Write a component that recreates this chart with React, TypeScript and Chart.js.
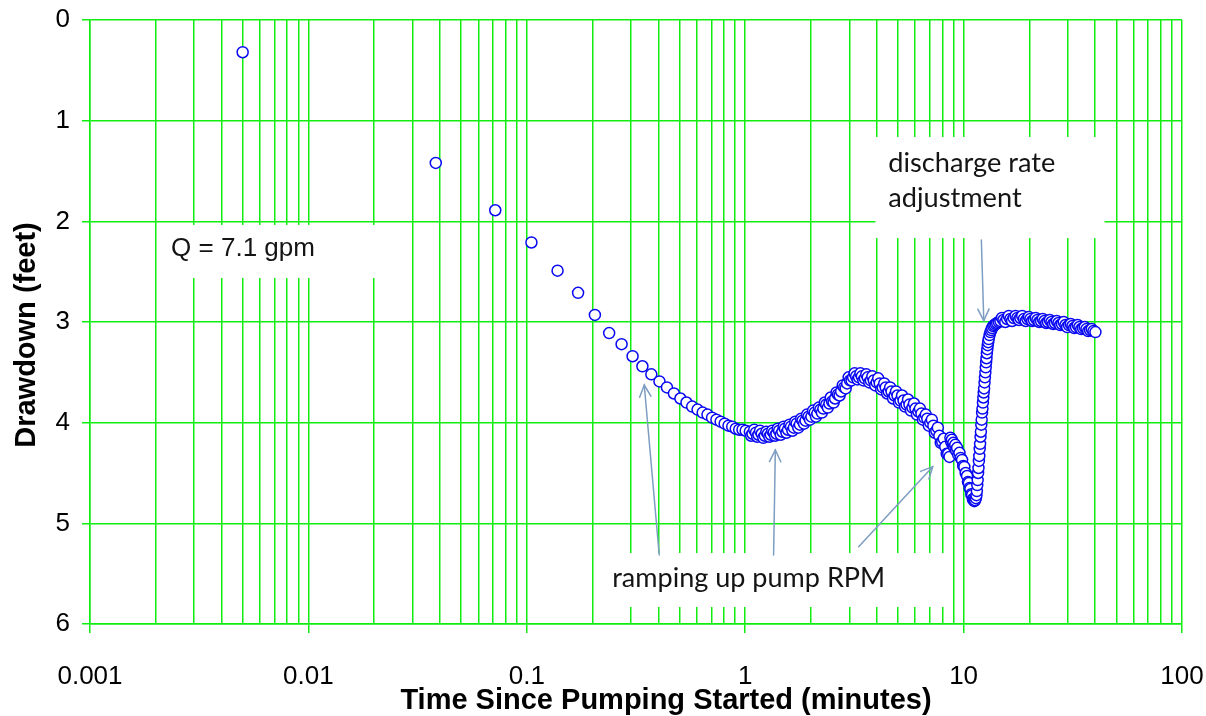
import { useEffect, useRef } from "react";
import { Chart, registerables } from "chart.js";

Chart.register(...registerables);

// ---- data ----
const timeMinutes = [
  // early, individually visible samples
  0.005, 0.0383, 0.0717, 0.105, 0.1383, 0.1717, 0.205, 0.2383, 0.2717, 0.305,
  0.3383, 0.3717, 0.405, 0.4383, 0.4717, 0.505, 0.5383, 0.5717, 0.605, 0.6383,
  0.6717, 0.705, 0.7383, 0.7717, 0.805, 0.8383, 0.8717, 0.905, 0.9383, 0.9717,
  1.005,
  // ramp-up band
  1.05, 1.065, 1.08, 1.1, 1.12, 1.135, 1.15, 1.17, 1.19, 1.21,
  1.23, 1.25, 1.27, 1.29, 1.31, 1.33, 1.35, 1.37, 1.39, 1.41,
  1.43, 1.455, 1.48, 1.5, 1.52, 1.545, 1.57, 1.595, 1.62, 1.645,
  1.67, 1.695, 1.72, 1.75, 1.78, 1.805, 1.83, 1.86, 1.89, 1.92,
  1.95, 1.98, 2.01, 2.045, 2.08, 2.11, 2.14, 2.175, 2.21, 2.245,
  2.28, 2.315, 2.35, 2.39, 2.43, 2.465, 2.5, 2.54, 2.58, 2.62,
  2.66, 2.705, 2.75, 2.795, 2.84, 2.885, 2.93, 2.975, 3.02, 3.07,
  3.12, 3.17, 3.22, 3.27, 3.32, 3.37, 3.42, 3.475, 3.53, 3.585,
  3.64, 3.7, 3.76, 3.82, 3.88, 3.94, 4.0, 4.065, 4.13, 4.195,
  4.26, 4.33, 4.4, 4.47, 4.54, 4.61, 4.68, 4.755, 4.83, 4.905,
  4.98, 5.06, 5.14, 5.225, 5.31, 5.395, 5.48, 5.565, 5.65, 5.74,
  5.83, 5.925, 6.02, 6.115, 6.21, 6.31, 6.41, 6.51, 6.61, 6.715,
  6.82, 6.93, 7.04, 7.155, 7.27, 7.385, 7.5, 7.62, 7.74, 7.86,
  7.98, 8.11, 8.24, 8.37, 8.5, 8.62,
  // small jump and dip
  8.7, 8.77, 8.84, 8.91, 8.98, 9.07, 9.16, 9.25, 9.34, 9.45,
  9.57, 9.7, 9.84, 9.96, 10.08, 10.22, 10.37, 10.47, 10.57, 10.65,
  10.74, 10.84, 10.94, 11.03, 11.12, 11.2, 11.27, 11.38,
  // discharge rate adjustment
  11.45, 11.5, 11.55, 11.6, 11.65, 11.7, 11.75, 11.8, 11.85, 11.9,
  11.95, 12.0, 12.05, 12.1, 12.15, 12.2, 12.26, 12.31, 12.36, 12.41,
  12.47, 12.52, 12.58, 12.63, 12.68, 12.73, 12.78, 12.84, 12.9, 12.96,
  13.03, 13.15, 13.27, 13.39, 13.51, 13.67, 13.84, 14.04, 14.24, 14.49,
  // plateau
  14.74, 14.98, 15.22, 15.52, 15.82, 16.1, 16.38, 16.67, 16.96, 17.3,
  17.64, 17.92, 18.2, 18.55, 18.89, 19.25, 19.6, 19.9, 20.23, 20.6,
  20.99, 21.38, 21.78, 22.2, 22.61, 23.03, 23.45, 23.9, 24.33, 24.8,
  25.25, 25.72, 26.2, 26.7, 27.19, 27.7, 28.2, 28.73, 29.27, 29.8,
  30.37, 30.94, 31.51, 32.1, 32.69, 33.3, 33.92, 34.56, 35.2, 35.86,
  36.52, 37.2, 37.9, 38.6, 39.32, 40.15,
];

const drawdownFeet = [
  0.32, 1.42, 1.89, 2.21, 2.49, 2.71, 2.93, 3.11, 3.22, 3.34,
  3.44, 3.52, 3.59, 3.65, 3.71, 3.76, 3.8, 3.84, 3.87, 3.9,
  3.92, 3.95, 3.97, 3.99, 4.01, 4.03, 4.04, 4.06, 4.07, 4.07,
  4.08,
  4.09, 4.13, 4.11, 4.07, 4.1, 4.14, 4.12, 4.08, 4.11, 4.15,
  4.13, 4.09, 4.11, 4.14, 4.12, 4.08, 4.1, 4.13, 4.11, 4.06,
  4.08, 4.12, 4.09, 4.04, 4.06, 4.1, 4.07, 4.02, 4.04, 4.08,
  4.05, 3.99, 4.01, 4.05, 4.02, 3.96, 3.98, 4.01, 3.98, 3.92,
  3.94, 3.97, 3.94, 3.88, 3.9, 3.94, 3.91, 3.85, 3.87, 3.9,
  3.86, 3.8, 3.82, 3.85, 3.81, 3.75, 3.79, 3.8, 3.76, 3.7,
  3.72, 3.73, 3.69, 3.63, 3.65, 3.66, 3.61, 3.55, 3.58, 3.58,
  3.55, 3.51, 3.54, 3.57, 3.55, 3.51, 3.54, 3.58, 3.56, 3.52,
  3.55, 3.6, 3.58, 3.54, 3.58, 3.63, 3.6, 3.56, 3.61, 3.67,
  3.65, 3.61, 3.65, 3.71, 3.69, 3.65, 3.69, 3.76, 3.73, 3.69,
  3.73, 3.8, 3.78, 3.73, 3.78, 3.84, 3.82, 3.77, 3.82, 3.88,
  3.85, 3.81, 3.86, 3.92, 3.89, 3.86, 3.91, 3.97, 3.95, 3.92,
  3.96, 4.03, 4.0, 3.97, 4.03, 4.1, 4.08, 4.05, 4.13, 4.2,
  4.19, 4.16, 4.24, 4.31, 4.31, 4.34,
  4.15, 4.19, 4.17, 4.22, 4.2, 4.25, 4.22, 4.28, 4.25, 4.32,
  4.3, 4.35, 4.37, 4.43, 4.44, 4.5, 4.53, 4.59, 4.6, 4.65,
  4.66, 4.71, 4.72, 4.76, 4.76, 4.78, 4.77, 4.75,
  4.72, 4.68, 4.62, 4.57, 4.5, 4.45, 4.38, 4.33, 4.26, 4.21,
  4.14, 4.09, 4.02, 3.97, 3.9, 3.86, 3.8, 3.75, 3.7, 3.66,
  3.6, 3.55, 3.5, 3.45, 3.4, 3.36, 3.31, 3.27, 3.23, 3.2,
  3.17, 3.13, 3.1, 3.08, 3.06, 3.04, 3.03, 3.02, 3.01, 3.0,
  2.99, 2.96, 2.98, 3.0, 2.97, 2.94, 2.97, 2.99, 2.96, 2.94,
  2.96, 2.98, 2.96, 2.94, 2.97, 2.99, 2.97, 2.95, 2.97, 2.99,
  2.98, 2.96, 2.98, 3.0, 2.99, 2.97, 2.99, 3.01, 3.0, 2.98,
  3.0, 3.02, 3.01, 2.99, 3.01, 3.03, 3.02, 3.0, 3.03, 3.05,
  3.03, 3.02, 3.04, 3.06, 3.05, 3.03, 3.05, 3.07, 3.06, 3.05,
  3.07, 3.09, 3.08, 3.07, 3.09, 3.1,
];

const xMajorTicks = [0.001, 0.01, 0.1, 1, 10, 100];
const xTickLabels = ["0.001", "0.01", "0.1", "1", "10", "100"];
const xMinorMultipliers = [2, 3, 4, 5, 6, 7, 8, 9];
const yTicks = [0, 1, 2, 3, 4, 5, 6];

const xTitle = "Time Since Pumping Started (minutes)";
const yTitle = "Drawdown (feet)";

// ---- annotations (positions in data coordinates) ----
const GREEN = "#10ee10";
const ARROW = "#7d9dc2";
const SANS = "'Liberation Sans', Arial, sans-serif";
const CALIBRI_LIKE = "Lato, 'Noto Sans', sans-serif";

const notes = [
  {
    lines: ["Q = 7.1 gpm"],
    box: [0.00209, 2.036, 0.0213, 2.563],
    anchor: [0.00235, 2.344],
    family: SANS,
    fitWidth: 144,
    lineStep: 0,
  },
  {
    lines: ["discharge rate", "adjustment"],
    box: [3.945, 1.162, 44.2, 2.166],
    anchor: [4.524, 1.51],
    family: CALIBRI_LIKE,
    fitWidth: 167,
    lineStep: 35,
  },
  {
    lines: ["ramping up pump RPM"],
    box: [0.2169, 5.295, 8.519, 5.831],
    anchor: [0.2461, 5.632],
    family: CALIBRI_LIKE,
    fitWidth: 273,
    lineStep: 0,
  },
];

// [tailTime, tailDrawdown, headTime, headDrawdown]
const arrows = [
  [0.404, 5.314, 0.345, 3.626],
  [1.349, 5.314, 1.374, 4.271],
  [3.307, 5.232, 7.22, 4.437],
  [12.06, 2.185, 12.37, 2.987],
];

const notesPlugin = {
  id: "notesPlugin",
  beforeDatasetsDraw(chart: any) {
    const { ctx, scales } = chart;
    const xs = scales.x;
    const ys = scales.y;
    ctx.save();
    for (const n of notes) {
      const x1 = xs.getPixelForValue(n.box[0]);
      const x2 = xs.getPixelForValue(n.box[2]);
      const y1 = ys.getPixelForValue(n.box[1]);
      const y2 = ys.getPixelForValue(n.box[3]);
      ctx.fillStyle = "#ffffff";
      ctx.fillRect(x1, y1, x2 - x1, y2 - y1);
      ctx.font = `30px ${n.family}`;
      const w = ctx.measureText(n.lines[0]).width;
      const size = (30 * n.fitWidth) / w;
      ctx.font = `${size.toFixed(2)}px ${n.family}`;
      ctx.fillStyle = "#141414";
      ctx.textAlign = "left";
      ctx.textBaseline = "alphabetic";
      const tx = xs.getPixelForValue(n.anchor[0]);
      const ty = ys.getPixelForValue(n.anchor[1]);
      n.lines.forEach((line, i) => ctx.fillText(line, tx, ty + i * n.lineStep));
    }
    ctx.restore();
  },
  afterDatasetsDraw(chart: any) {
    const { ctx, scales } = chart;
    const xs = scales.x;
    const ys = scales.y;
    ctx.save();
    ctx.strokeStyle = ARROW;
    ctx.lineWidth = 1.5;
    ctx.lineCap = "round";
    for (const a of arrows) {
      const tx = xs.getPixelForValue(a[0]);
      const ty = ys.getPixelForValue(a[1]);
      const hx = xs.getPixelForValue(a[2]);
      const hy = ys.getPixelForValue(a[3]);
      ctx.beginPath();
      ctx.moveTo(tx, ty);
      ctx.lineTo(hx, hy);
      ctx.stroke();
      const ang = Math.atan2(ty - hy, tx - hx);
      const len = 13;
      const spread = 0.45;
      ctx.beginPath();
      ctx.moveTo(hx + len * Math.cos(ang - spread), hy + len * Math.sin(ang - spread));
      ctx.lineTo(hx, hy);
      ctx.lineTo(hx + len * Math.cos(ang + spread), hy + len * Math.sin(ang + spread));
      ctx.stroke();
    }
    ctx.restore();
  },
  afterDraw(chart: any) {
    const { ctx, chartArea } = chart;
    ctx.save();
    ctx.fillStyle = "#000";
    ctx.font = `bold 29px ${SANS}`;
    ctx.textAlign = "center";
    ctx.textBaseline = "middle";
    ctx.fillText(xTitle, (chartArea.left + chartArea.right) / 2 + 30, chart.height - 15);
    ctx.translate(27, (chartArea.top + chartArea.bottom) / 2 + 13);
    ctx.rotate(-Math.PI / 2);
    ctx.fillText(yTitle, 0, 0);
    ctx.restore();
  },
};

export default function App() {
  const canvasRef = useRef<HTMLCanvasElement | null>(null);

  useEffect(() => {
    const canvas = canvasRef.current;
    if (!canvas) return;
    const points = timeMinutes.map((t, i) => ({ x: t, y: drawdownFeet[i] }));

    const chart = new Chart(canvas, {
      type: "scatter",
      data: {
        datasets: [
          {
            label: "Drawdown",
            data: points,
            showLine: false,
            pointStyle: "circle",
            pointRadius: 5.5,
            pointHoverRadius: 5.5,
            pointBorderWidth: 1.5,
            pointBorderColor: "#0808f2",
            pointBackgroundColor: "#ffffff",
          },
        ],
      },
      options: {
        animation: false,
        responsive: false,
        devicePixelRatio: 1,
        events: [],
        layout: { padding: { top: 20, right: 24, left: 0, bottom: 0 } },
        plugins: {
          legend: { display: false },
          tooltip: { enabled: false },
          title: { display: false },
        },
        scales: {
          x: {
            type: "logarithmic",
            position: "bottom",
            min: 0.001,
            max: 100,
            afterBuildTicks: (scale: any) => {
              const ticks: any[] = [];
              xMajorTicks.forEach((v, i) => {
                ticks.push({ value: v, major: true });
                if (i < xMajorTicks.length - 1) {
                  xMinorMultipliers.forEach((m) => ticks.push({ value: v * m, major: false }));
                }
              });
              scale.ticks = ticks;
            },
            afterFit: (scale: any) => {
              scale.height = 92;
              scale.paddingLeft = 0;
              scale.paddingRight = 0;
            },
            ticks: {
              autoSkip: false,
              maxRotation: 0,
              minRotation: 0,
              padding: 28,
              color: "#000",
              font: { family: SANS, size: 26 },
              callback: (value: any) => {
                const idx = xMajorTicks.findIndex((v) => Math.abs(v - Number(value)) < v * 1e-6);
                return idx >= 0 ? xTickLabels[idx] : "";
              },
            },
            grid: {
              color: GREEN,
              lineWidth: 1.5,
              drawTicks: true,
              tickLength: 9,
              tickWidth: 1.5,
              tickColor: (ctx: any) => (ctx.tick && ctx.tick.major ? GREEN : "rgba(0,0,0,0)"),
            },
            border: { display: true, color: GREEN, width: 1.5 },
            title: { display: false },
          },
          y: {
            type: "linear",
            reverse: true,
            min: 0,
            max: 6,
            afterBuildTicks: (scale: any) => {
              scale.ticks = yTicks.map((v) => ({ value: v }));
            },
            afterFit: (scale: any) => {
              scale.width = 90;
              scale.paddingTop = 0;
              scale.paddingBottom = 0;
            },
            ticks: {
              padding: 12,
              color: "#000",
              font: { family: SANS, size: 26 },
            },
            grid: {
              color: GREEN,
              lineWidth: 1.5,
              drawTicks: true,
              tickLength: 8,
              tickWidth: 1.5,
              tickColor: GREEN,
            },
            border: { display: true, color: GREEN, width: 1.5 },
            title: { display: false },
          },
        },
      },
      plugins: [notesPlugin],
    });

    return () => chart.destroy();
  }, []);

  return (
    <div style={{ position: "fixed", left: 0, top: 0, width: 1206, height: 716, background: "#fff" }}>
      <canvas ref={canvasRef} width={1206} height={716} style={{ display: "block" }} />
    </div>
  );
}
